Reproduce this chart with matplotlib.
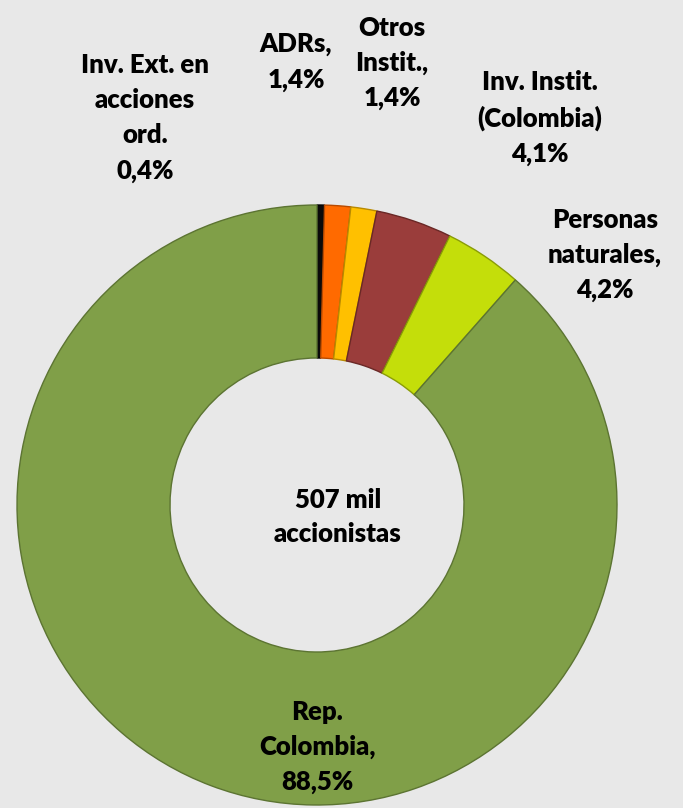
import matplotlib
matplotlib.use("Agg")
import matplotlib.pyplot as plt

categories = ["Inv. Ext. en\nacciones\nord.", "ADRs,", "Otros\nInstit.,", "Inv. Instit.\n(Colombia)", "Personas\nnaturales,", "Rep.\nColombia,"]
values = [0.4, 1.4, 1.4, 4.1, 4.2, 88.5]
value_labels = ["0,4%", "1,4%", "1,4%", "4,1%", "4,2%", "88,5%"]
colors = ["#0a0a0a", "#ff6a00", "#ffc000", "#9a3d3b", "#c4de0a", "#809f48"]
edge_colors = ["#000000", "#b84a00", "#b88a00", "#6a2826", "#8a9c06", "#5c7432"]
center_text = "507 mil\naccionistas"

W, H = 683, 808
fig = plt.figure(figsize=(W / 100, H / 100), dpi=100)
fig.patch.set_facecolor("#e8e8e8")

cx, cy, R = 317, 505, 300
ax = fig.add_axes([(cx - R) / W, (H - cy - R) / H, 2 * R / W, 2 * R / H])

wedges, _ = ax.pie(values, colors=colors, startangle=90, counterclock=False,
                   radius=1.0, wedgeprops=dict(width=0.51, linewidth=1.0))
for w, ec in zip(wedges, edge_colors):
    w.set_edgecolor(ec)

ax.set_xlim(-1, 1)
ax.set_ylim(-1, 1)
ax.set_aspect("equal")
ax.axis("off")

font = dict(family=["Lato", "DejaVu Sans"], fontweight="heavy", fontsize=18.5, color="black",
            ha="center", va="center", linespacing=1.55)

def px(x, y):
    return x / W, 1 - y / H

label_pos = [(145, 118), (296, 62), (392, 63), (540, 118), (605, 255), (317, 747)]
for cat, vl, (x, y) in zip(categories, value_labels, label_pos):
    fig.text(*px(x, y), cat + "\n" + vl, **font)

fig.text(*px(338, 517), center_text, **font)

fig.savefig("out.png", dpi=100, facecolor=fig.get_facecolor())
